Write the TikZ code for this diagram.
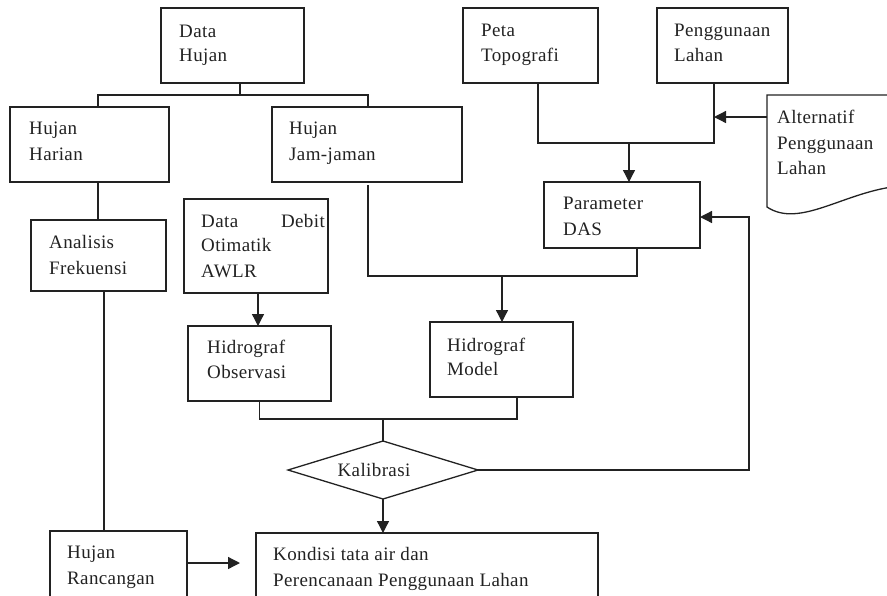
\documentclass[tikz,border=0pt]{standalone}
\usepackage{fontspec}
\setmainfont{Liberation Serif}[LetterSpace=2.0]
\usetikzlibrary{arrows.meta,shapes.geometric}
\definecolor{ink}{HTML}{222222}
\tikzset{
  box/.style={draw=ink, line width=1.3pt, inner sep=0pt, outer sep=0pt, anchor=north west},
  lbl/.style={anchor=base west, inner sep=0pt, text=ink, font=\fontsize{19}{24}\selectfont},
  ln/.style={draw=ink, line width=1.3pt},
  arr/.style={draw=ink, line width=1.3pt, -{Triangle[length=12pt,width=12pt]}},
}
\begin{document}
\begin{tikzpicture}[x=1pt,y=-1pt]
\useasboundingbox (0,0) rectangle (887,595);
\clip (0,0) rectangle (887,595);
% boxes
\node[box, minimum width=143pt, minimum height=75pt] (dh) at (161,8) {};
\node[box, minimum width=159pt, minimum height=75pt] (hh) at (10,107) {};
\node[box, minimum width=190pt, minimum height=75pt] (hj) at (272,107) {};
\node[box, minimum width=135pt, minimum height=71pt] (af) at (31,220) {};
\node[box, minimum width=144pt, minimum height=94pt] (dd) at (184,199) {};
\node[box, minimum width=135pt, minimum height=75pt] (pt) at (463,8) {};
\node[box, minimum width=131pt, minimum height=75pt] (pl) at (657,8) {};
\node[box, minimum width=156pt, minimum height=66pt] (pd) at (544,182) {};
\node[box, minimum width=143pt, minimum height=75pt] (ho) at (188,326) {};
\node[box, minimum width=143pt, minimum height=75pt] (hm) at (430,322) {};
\node[box, minimum width=137pt, minimum height=90pt] (hr) at (50,531) {};
\node[box, minimum width=342pt, minimum height=90pt] (kd) at (256,533) {};
\node[draw=ink, line width=1.3pt, shape=diamond, inner sep=0pt, outer sep=0pt,
      minimum width=190pt, minimum height=58pt] (kal) at (383,470) {};
% document shape
\draw[ln] (900,95) -- (767,95) -- (767,207)
  .. controls (800,229) and (845,191) .. (900,186);
\coordinate (altin) at (767,117);
\coordinate (jl) at (714,117);
\coordinate (jp) at (629,143);
\coordinate (jm) at (502,276);
% labels
\node[lbl] (dh1) at (179,37) {Data};
\node[lbl] (dh2) at (179,61) {Hujan};
\node[lbl] (hh1) at (29,134) {Hujan};
\node[lbl] (hh2) at (29,160) {Harian};
\node[lbl] (hj1) at (289,134) {Hujan};
\node[lbl] (hj2) at (289,160) {Jam-jaman};
\node[lbl] (af1) at (49,248) {Analisis};
\node[lbl] (af2) at (49,274) {Frekuensi};
\node[lbl] (dd1) at (201,227) {Data};
\node[lbl, anchor=base east] (dd1b) at (325,227) {Debit};
\node[lbl] (dd2) at (201,251) {Otimatik};
\node[lbl] (dd3) at (201,277) {AWLR};
\node[lbl] (pt1) at (481,36) {Peta};
\node[lbl] (pt2) at (481,61) {Topografi};
\node[lbl] (pl1) at (674,36) {Penggunaan};
\node[lbl] (pl2) at (674,61) {Lahan};
\node[lbl] (al1) at (777,123) {Alternatif};
\node[lbl] (al2) at (777,149) {Penggunaan};
\node[lbl] (al3) at (777,174) {Lahan};
\node[lbl] (pd1) at (563,209) {Parameter};
\node[lbl] (pd2) at (563,235) {DAS};
\node[lbl] (ho1) at (207,353) {Hidrograf};
\node[lbl] (ho2) at (207,378) {Observasi};
\node[lbl] (hm1) at (447,351) {Hidrograf};
\node[lbl] (hm2) at (447,375) {Model};
\node[lbl, anchor=base] (kal1) at (374,476) {Kalibrasi};
\node[lbl] (hr1) at (67,558) {Hujan};
\node[lbl] (hr2) at (67,584) {Rancangan};
\node[lbl] (kd1) at (273,560) {Kondisi tata air dan};
\node[lbl] (kd2) at (273,586) {Perencanaan Penggunaan Lahan};
% connectors
\draw[ln] ([xshift=79pt]dh.south west) -- ++(0,12) -| ([xshift=88pt]hh.north west);
\draw[ln] ([xshift=79pt]dh.south west) ++(0,12) -| ([xshift=96pt]hj.north west);
\draw[ln] ([xshift=88pt]hh.south west) -- ([xshift=67pt]af.north west);
\draw[ln] ([xshift=73pt]af.south west) -- ([xshift=54pt]hr.north west);
\draw[arr] ([yshift=-32pt]hr.north east) -- ([xshift=-16pt,yshift=-30pt]kd.north west);
\draw[ln] ([xshift=96pt,yshift=-3pt]hj.south west) -- ++(0,91) -| ([xshift=93pt]pd.south west);
\draw[arr] (jm) -- (jm |- hm.north);
\draw[arr] ([xshift=74pt]dd.south west) -- ([xshift=70pt]ho.north west);
\draw[ln] (ho.south) -- ++(0,18) -| ([xshift=87pt]hm.south west);
\draw[ln] (kal.north) -- ++(0,-22);
\draw[arr] (kal.south) -- (kal.south |- kd.north);
\draw[arr] (kal.east) -- ++(271,0) |- ([yshift=-35pt]pd.north east);
\draw[ln] ([xshift=75pt]pt.south west) |- ([xshift=57pt,yshift=-60pt]pl.south west) -- ([xshift=57pt]pl.south west);
\draw[arr] (jp) -- (jp |- pd.north);
\draw[arr] (altin) -- (jl);
\end{tikzpicture}
\end{document}
